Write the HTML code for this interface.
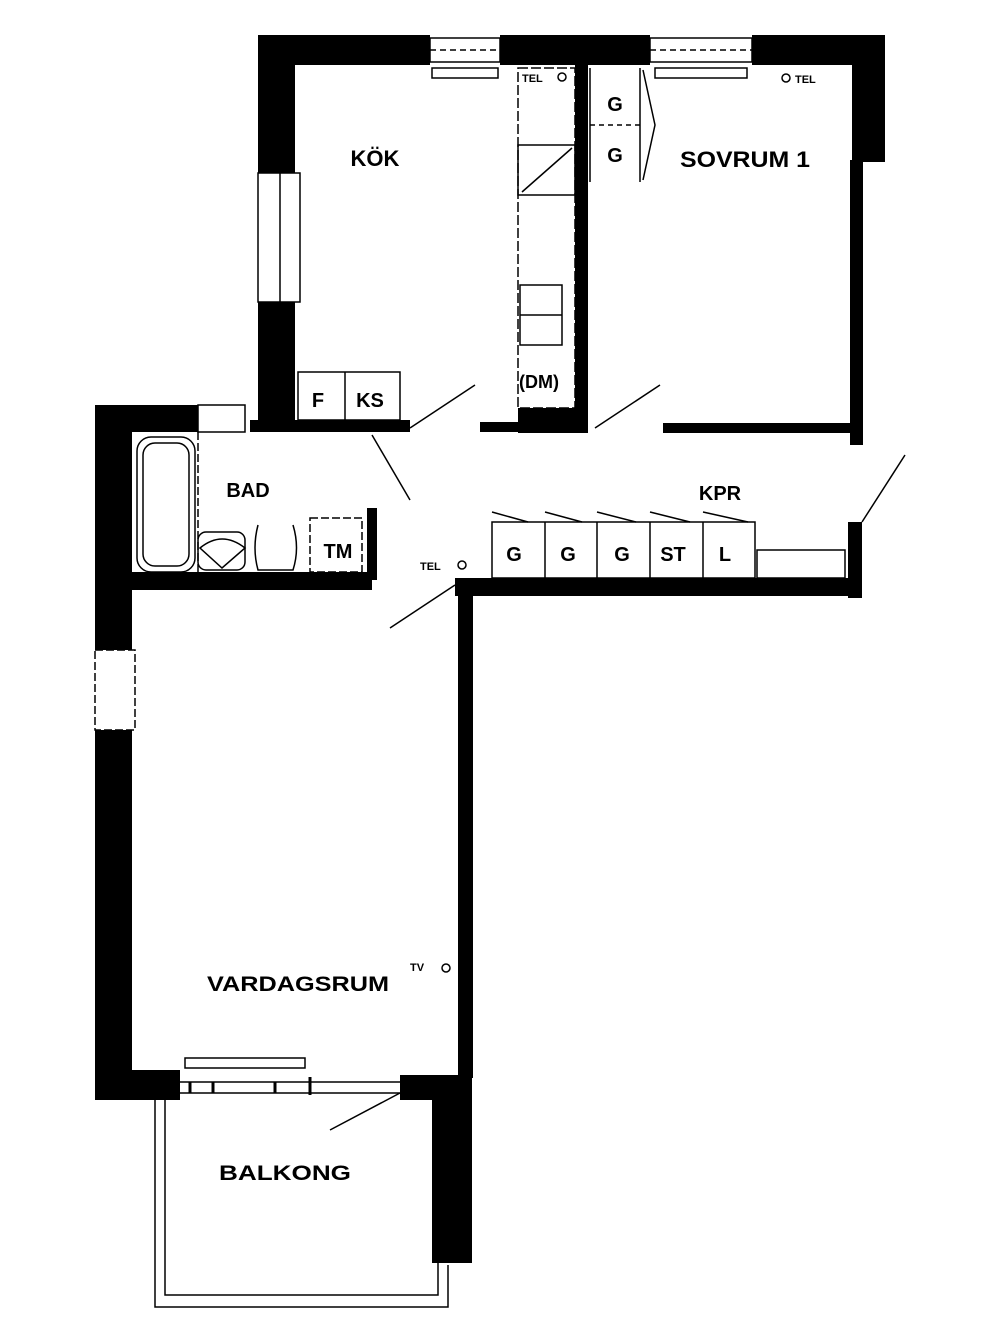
<!DOCTYPE html>
<html><head><meta charset="utf-8"><style>
html,body{margin:0;padding:0;background:#fff;}
svg{display:block;}
text{font-family:"Liberation Sans",sans-serif;font-weight:bold;fill:#000;}
</style></head><body>
<svg width="1000" height="1333" viewBox="0 0 1000 1333" xmlns="http://www.w3.org/2000/svg">
<g fill="#000">
<!-- top wall -->
<rect x="258" y="35" width="172" height="30"/>
<rect x="500" y="35" width="150" height="30"/>
<rect x="752" y="35" width="133" height="30"/>
<rect x="852" y="35" width="33" height="127"/>
<rect x="850" y="160" width="13" height="285"/>
<!-- kitchen left wall -->
<rect x="258" y="35" width="37" height="138"/>
<rect x="258" y="302" width="37" height="130"/>
<!-- kitchen bottom -->
<rect x="250" y="420" width="160" height="12"/>
<rect x="480" y="422" width="40" height="10"/>
<rect x="518" y="408" width="70" height="25"/>
<rect x="575" y="65" width="13" height="368"/>
<rect x="663" y="423" width="190" height="10"/>
<!-- bad -->
<rect x="95" y="405" width="103" height="27"/>
<rect x="95" y="405" width="37" height="245"/>
<rect x="132" y="572" width="240" height="18"/>
<rect x="367" y="508" width="10" height="72"/>
<!-- hall wall -->
<rect x="455" y="578" width="407" height="18"/>
<rect x="848" y="522" width="14" height="76"/>
<rect x="458" y="578" width="15" height="500"/>
<!-- vardagsrum -->
<rect x="95" y="730" width="37" height="370"/>
<rect x="95" y="1070" width="85" height="30"/>
<rect x="400" y="1075" width="72" height="25"/>
<rect x="432" y="1075" width="40" height="188"/>
</g>
<g fill="none" stroke="#000" stroke-width="1.5">
<!-- windows top -->
<rect x="430" y="38" width="70" height="24"/>
<line x1="430" y1="50" x2="500" y2="50" stroke-dasharray="6 4"/>
<rect x="432" y="68" width="66" height="10"/>
<rect x="650" y="38" width="102" height="24"/>
<line x1="650" y1="50" x2="752" y2="50" stroke-dasharray="6 4"/>
<rect x="655" y="68" width="92" height="10"/>
<!-- kitchen window -->
<rect x="258" y="173" width="42" height="129"/>
<line x1="280" y1="173" x2="280" y2="302"/>
<!-- counter -->
<rect x="518" y="68" width="57" height="340" stroke-dasharray="10 3"/>
<rect x="518" y="145" width="57" height="50"/>
<line x1="522" y1="192" x2="572" y2="148"/>
<rect x="520" y="285" width="42" height="60"/>
<line x1="520" y1="315" x2="562" y2="315"/>
<!-- F KS -->
<rect x="298" y="372" width="102" height="48"/>
<line x1="345" y1="372" x2="345" y2="420"/>
<!-- doors -->
<line x1="410" y1="428" x2="475" y2="385"/>
<line x1="595" y1="428" x2="660" y2="385"/>
<line x1="372" y1="435" x2="410" y2="500"/>
<line x1="862" y1="522" x2="905" y2="455"/>
<line x1="455" y1="585" x2="390" y2="628"/>
<line x1="400" y1="1093" x2="330" y2="1130"/>
<!-- G G closet -->
<line x1="590" y1="68" x2="590" y2="182"/>
<line x1="590" y1="125" x2="640" y2="125" stroke-dasharray="5 4"/>
<line x1="640" y1="68" x2="640" y2="182"/>
<polyline points="643,70 655,125 643,180"/>
<!-- bad -->
<rect x="137" y="437" width="58" height="135" rx="14"/>
<rect x="143" y="443" width="46" height="123" rx="12"/>
<line x1="198" y1="432" x2="198" y2="572" stroke-dasharray="8 3"/>
<rect x="198" y="405" width="47" height="27"/>
<path d="M200,548 Q222,530 245,548 L222,568 Z"/>
<rect x="198" y="532" width="47" height="38" rx="8"/>
<path d="M258,525 Q252,548 258,570 L293,570 Q300,548 293,525"/>
<rect x="310" y="518" width="52" height="54" stroke-dasharray="8 3"/>
<!-- closets -->
<rect x="492" y="522" width="263" height="56"/>
<line x1="545" y1="522" x2="545" y2="578"/>
<line x1="597" y1="522" x2="597" y2="578"/>
<line x1="650" y1="522" x2="650" y2="578"/>
<line x1="703" y1="522" x2="703" y2="578"/>
<line x1="492" y1="512" x2="528" y2="522"/>
<line x1="545" y1="512" x2="582" y2="522"/>
<line x1="597" y1="512" x2="636" y2="522"/>
<line x1="650" y1="512" x2="690" y2="522"/>
<line x1="703" y1="512" x2="748" y2="522"/>
<rect x="757" y="550" width="88" height="28"/>
<!-- vardagsrum window -->
<rect x="95" y="650" width="40" height="80" stroke-dasharray="8 3"/>
<line x1="180" y1="1082" x2="400" y2="1082"/>
<line x1="180" y1="1093" x2="400" y2="1093"/>
<rect x="185" y="1058" width="120" height="10"/>
<line x1="190" y1="1082" x2="190" y2="1093" stroke-width="3"/>
<line x1="213" y1="1082" x2="213" y2="1093" stroke-width="3"/>
<line x1="275" y1="1082" x2="275" y2="1093" stroke-width="3"/>
<line x1="310" y1="1077" x2="310" y2="1095" stroke-width="3"/>
<!-- balcony -->
<polyline points="155,1100 155,1307 448,1307 448,1265"/>
<polyline points="165,1100 165,1295 438,1295 438,1263"/>
<circle cx="562" cy="77" r="4"/>
<circle cx="786" cy="78" r="4"/>
<circle cx="462" cy="565" r="4"/>
<circle cx="446" cy="968" r="4"/>
</g>
<g>
<text x="375" y="166" font-size="22" text-anchor="middle">KÖK</text>
<text x="745" y="167" font-size="22" text-anchor="middle" textLength="130" lengthAdjust="spacingAndGlyphs">SOVRUM 1</text>
<text x="615" y="111" font-size="20" text-anchor="middle">G</text>
<text x="615" y="162" font-size="20" text-anchor="middle">G</text>
<text x="522" y="82" font-size="11">TEL</text>
<text x="795" y="83" font-size="11">TEL</text>
<text x="318" y="407" font-size="20" text-anchor="middle">F</text>
<text x="370" y="407" font-size="20" text-anchor="middle">KS</text>
<text x="539" y="388" font-size="18" text-anchor="middle">(DM)</text>
<text x="248" y="497" font-size="20" text-anchor="middle">BAD</text>
<text x="338" y="558" font-size="20" text-anchor="middle">TM</text>
<text x="720" y="500" font-size="20" text-anchor="middle">KPR</text>
<text x="514" y="561" font-size="20" text-anchor="middle">G</text>
<text x="568" y="561" font-size="20" text-anchor="middle">G</text>
<text x="622" y="561" font-size="20" text-anchor="middle">G</text>
<text x="673" y="561" font-size="20" text-anchor="middle">ST</text>
<text x="725" y="561" font-size="20" text-anchor="middle">L</text>
<text x="420" y="570" font-size="11">TEL</text>
<text x="410" y="971" font-size="11">TV</text>
<text x="298" y="991" font-size="21" text-anchor="middle" textLength="182" lengthAdjust="spacingAndGlyphs">VARDAGSRUM</text>
<text x="285" y="1180" font-size="21" text-anchor="middle" textLength="132" lengthAdjust="spacingAndGlyphs">BALKONG</text>
</g>
</svg>
</body></html>
